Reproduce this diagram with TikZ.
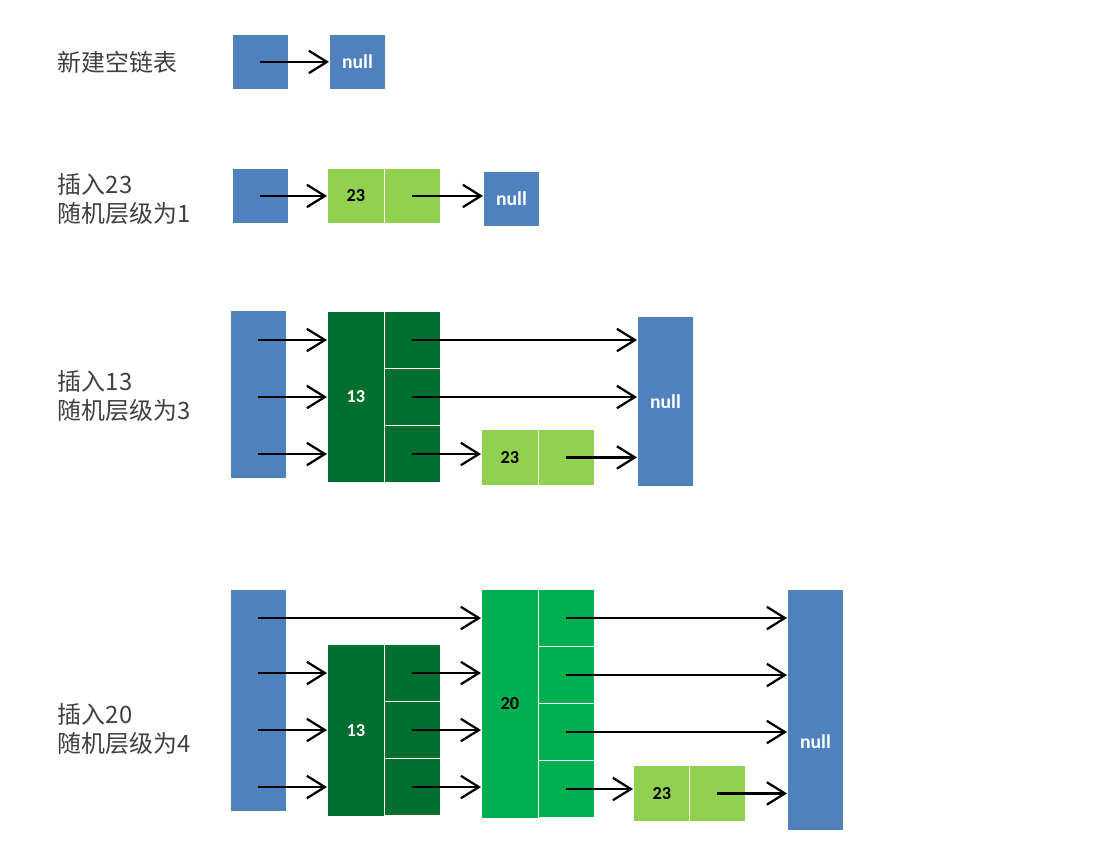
\documentclass[tikz,border=0pt]{standalone}
\usepackage{fontspec}
\setmainfont{Carlito}
\newfontfamily\cjk{Noto Sans CJK SC}
\usetikzlibrary{arrows.meta}

\definecolor{headblue}{HTML}{4F81BD}
\definecolor{darkgreen}{HTML}{006F30}
\definecolor{midgreen}{HTML}{00B050}
\definecolor{lightgreen}{HTML}{92D050}
\definecolor{labelgray}{HTML}{404040}

\tikzset{
	box/.style={inner sep=0pt,anchor=north west,draw=white,line width=0.6pt,font=\fontsize{13}{13}\selectfont\bfseries},
	headbox/.style={box,fill=headblue,minimum width=1.4cm},
	nullbox/.style={box,fill=headblue,minimum width=1.4cm,text=white,font=\fontsize{14}{14}\selectfont\bfseries},
	keycell/.style={box,minimum width=1.42cm},
	ptrcell/.style={box,minimum width=1.4cm,minimum height=1.43cm},
	ptr/.style={line width=1.6pt,-{Straight Barb[length=4.5mm,width=5.6mm]}},
	rowlabel/.style={anchor=west,align=left,text=labelgray,font=\cjk\fontsize{17}{20}\selectfont}
}

\begin{document}
\begin{tikzpicture}[x=0.025cm,y=-0.025cm]
	\useasboundingbox (0,0) rectangle (1115,846);
	% новый пустой список
	\node[rowlabel] (l1) at (53,62) {新建空链表};
	\node[headbox,minimum height=1.375cm] (h1) at (232,34) {};
	\node[nullbox,minimum height=1.375cm] (n1) at (329,34) {null};
	\draw[ptr] (h1.center) -- (n1.west);
	% вставка 23
	\node[rowlabel] (l2) at (53,199) {插入23\\随机层级为1};
	\node[headbox,minimum height=1.375cm] (h2) at (232,168) {};
	\node[keycell,fill=lightgreen,minimum height=1.375cm] (k2) at (327,168) {23};
	\node[ptrcell,fill=lightgreen,minimum height=1.375cm] (p2) at (384,168) {};
	\node[nullbox,minimum height=1.375cm] (n2) at (483,171) {null};
	\draw[ptr] (h2.center) -- (k2.west);
	\draw[ptr] (p2.center) -- (n2.west |- p2.center);
	% вставка 13
	\node[rowlabel] (l3) at (53,396) {插入13\\随机层级为3};
	\node[headbox,minimum height=4.2cm] (h3) at (230,310) {};
	\node[keycell,fill=darkgreen,text=white,minimum height=4.28cm] (k3) at (327,311) {13};
	\foreach \i/\y in {1/311,2/368,3/425}
		\node[ptrcell,fill=darkgreen] (p3\i) at (384,\y) {};
	\node[keycell,fill=lightgreen,minimum height=1.4cm] (k3b) at (481,429) {23};
	\node[ptrcell,fill=lightgreen,minimum height=1.4cm] (p3b) at (538,429) {};
	\node[nullbox,minimum height=4.25cm] (n3) at (637,316) {null};
	\foreach \i in {1,2,3}
		\draw[ptr] (h3.center |- p3\i.center) -- (k3.west |- p3\i.center);
	\draw[ptr] (p31.center) -- (n3.west |- p31.center);
	\draw[ptr] (p32.center) -- (n3.west |- p32.center);
	\draw[ptr] (p33.center) -- (k3b.west |- p33.center);
	\draw[ptr] (p3b.center) -- (n3.west |- p3b.center);
	% вставка 20
	\node[rowlabel] (l4) at (53,729) {插入20\\随机层级为4};
	\node[headbox,minimum height=5.55cm] (h4) at (230,589) {};
	\node[keycell,fill=darkgreen,text=white,minimum height=4.3cm] (k4a) at (327,644) {13};
	\foreach \i/\y in {2/644,3/701,4/758}
		\node[ptrcell,fill=darkgreen] (p4a\i) at (384,\y) {};
	\node[keycell,fill=midgreen,minimum height=5.72cm] (k4b) at (481,589) {20};
	\foreach \i/\y in {1/589,2/646,3/703,4/760}
		\node[ptrcell,fill=midgreen] (p4b\i) at (538,\y) {};
	\node[keycell,fill=lightgreen,minimum height=1.4cm] (k4c) at (633,765) {23};
	\node[ptrcell,fill=lightgreen,minimum height=1.4cm] (p4c) at (689,765) {};
	\node[nullbox,minimum height=6.03cm,text height=1.9cm,text depth=0pt] (n4) at (787,589) {null};
	\draw[ptr] (h4.center |- p4b1.center) -- (k4b.west |- p4b1.center);
	\foreach \i in {2,3,4} {
		\draw[ptr] (h4.center |- p4a\i.center) -- (k4a.west |- p4a\i.center);
		\draw[ptr] (p4a\i.center) -- (k4b.west |- p4a\i.center);
	}
	\foreach \i in {1,2,3}
		\draw[ptr] (p4b\i.center) -- (n4.west |- p4b\i.center);
	\draw[ptr] (p4b4.center) -- (k4c.west |- p4b4.center);
	\draw[ptr] (p4c.center) -- (n4.west |- p4c.center);
\end{tikzpicture}
\end{document}
